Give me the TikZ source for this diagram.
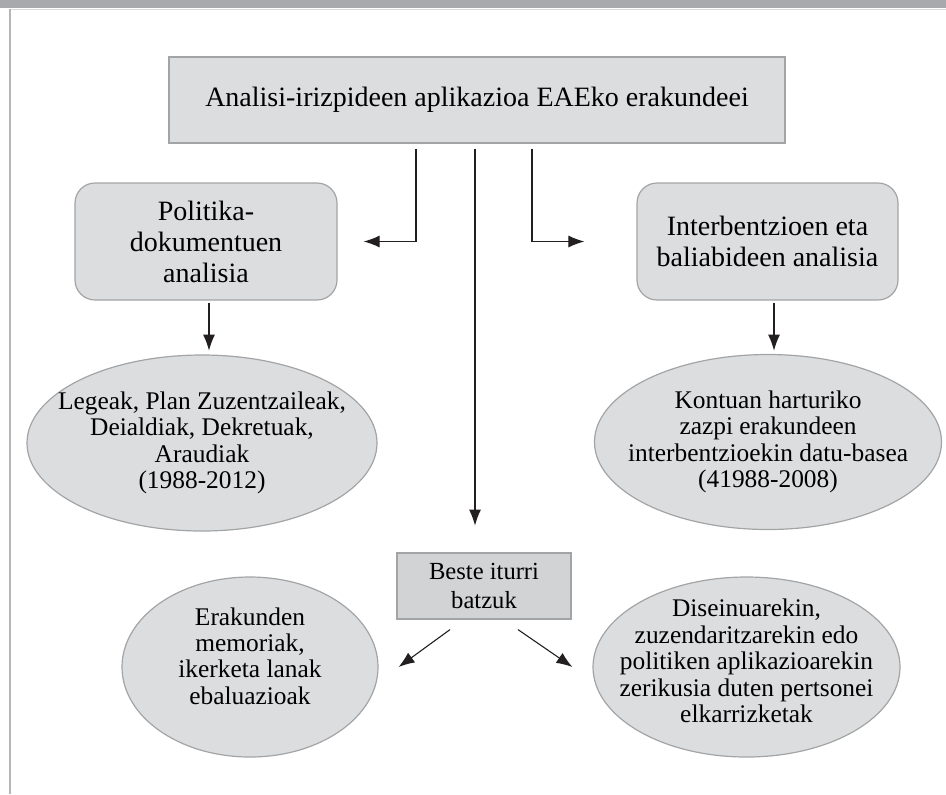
\documentclass[tikz,border=0pt]{standalone}
\usepackage{fontspec}
\setmainfont{Liberation Serif}
\usetikzlibrary{positioning,calc,shapes.geometric,arrows.meta}
\definecolor{boxgray}{HTML}{DCDDDF}
\definecolor{darkbox}{HTML}{D2D3D5}
\definecolor{edgegray}{HTML}{A3A4A6}
\definecolor{bargray}{HTML}{A7A9AC}
\definecolor{ink}{HTML}{231F20}
\tikzset{>={Latex[length=8pt,width=6pt]}}
\tikzset{
  plainbox/.style={draw=edgegray, fill=boxgray, line width=0.6pt, align=center, inner sep=0pt},
  roundbox/.style={plainbox, rounded corners=10pt, minimum width=131pt, minimum height=58.5pt},
  oval/.style={plainbox, ellipse},
  boxfont/.style={font=\fontsize{14}{15.5}\selectfont},
  ovaltext/.style={align=center, inner sep=0pt, font=\fontsize{12.7}{13.2}\selectfont},
  arr/.style={->, draw=ink, line width=0.55pt},
}

\begin{document}
\begin{tikzpicture}[x=0.5pt,y=-0.5pt]
\useasboundingbox (0,0) rectangle (946,794);
% page frame
\fill[bargray] (0,0) rectangle (946,8);
\draw[edgegray!40, line width=0.4pt] (10,9) -- (946,9);
\draw[edgegray!80, line width=0.6pt] (10,9) -- (10,794);

\node[plainbox, boxfont, minimum width=308pt, minimum height=43pt] (top) at (477,100)
  {Analisi-irizpideen aplikazioa EAEko erakundeei};
\node[roundbox, boxfont] (polit) at (206,241.5) {Politika-\\dokumentuen\\analisia};
\node[roundbox, boxfont, minimum width=130.5pt] (inter) at (767.5,241.5)
  {Interbentzioen eta\\baliabideen analisia};

\node[oval, minimum width=175pt, minimum height=88pt] (lege) at (202,443) {};
\node[ovaltext] (legetext) at (lege)
  {Legeak, Plan Zuzentzaileak,\\Deialdiak, Dekretuak,\\Araudiak\\(1988-2012)};
\node[oval, minimum width=173.5pt, minimum height=87.5pt] (datu) at (768,442) {};
\node[ovaltext] (datutext) at (datu)
  {Kontuan harturiko\\zazpi erakundeen\\interbentzioekin datu-basea\\(41988-2008)};

\node[plainbox, fill=darkbox, minimum width=87pt, minimum height=33pt,
  font=\fontsize{12.3}{14.5}\selectfont] (beste) at (484,586) {Beste iturri\\batzuk};

\node[oval, minimum width=128pt, minimum height=90pt] (memo) at (250,667) {};
\node[ovaltext] (memotext) at ([yshift=5.5pt]memo)
  {Erakunden\\memoriak,\\ikerketa lanak\\ebaluazioak};
\node[oval, minimum width=153.5pt, minimum height=90pt] (dise) at (746.5,667) {};
\node[ovaltext] (disetext) at ([yshift=3pt]dise)
  {Diseinuarekin,\\zuzendaritzarekin edo\\politiken aplikazioarekin\\zerikusia duten pertsonei\\elkarrizketak};

% connectors
\draw[arr] ([xshift=-30.5pt,yshift=-2.5pt]top.south) |- ([xshift=13pt]polit.east);
\draw[arr] ([xshift=27.5pt,yshift=-2.5pt]top.south) |- ([xshift=-26pt]inter.west);
\draw[arr] ([xshift=-1pt,yshift=-2.5pt]top.south) -- ++(0,377);
\draw[arr] ([xshift=1.5pt,yshift=-1pt]polit.south) -- ++(0,48);
\draw[arr] ([xshift=3.25pt,yshift=-1pt]inter.south) -- ++(0,48);
\draw[arr] ([xshift=-17pt,yshift=-5pt]beste.south) -- ([xshift=10pt]memo.east);
\draw[arr] ([xshift=17pt,yshift=-5pt]beste.south) -- ([xshift=-10pt]dise.west);
\end{tikzpicture}
\end{document}
